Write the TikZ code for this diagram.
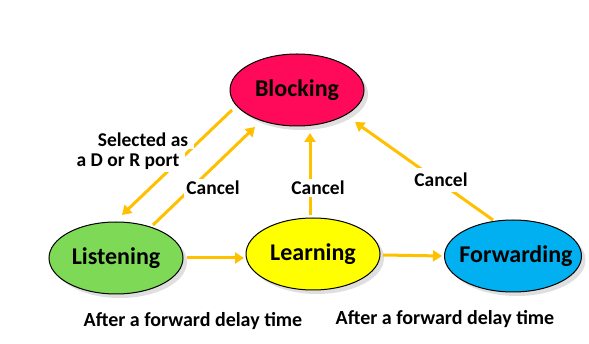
\documentclass[tikz,border=0pt]{standalone}
\usepackage{fontspec}
\setmainfont{Carlito}
\usetikzlibrary{arrows.meta,shadows,calc,shapes.geometric}
\definecolor{arrowc}{HTML}{FFC000}
\definecolor{blockc}{HTML}{FF0A5A}
\definecolor{listc}{HTML}{7ED957}
\definecolor{learnc}{HTML}{FFFF00}
\definecolor{fwdc}{HTML}{00B0F0}
\tikzset{
  state/.style={ellipse, draw=black, line width=1pt, minimum width=134pt, minimum height=72pt,
    inner sep=0pt, font=\bfseries\fontsize{24}{26}\selectfont,
    drop shadow={shadow xshift=4pt, shadow yshift=-4pt, fill=black!25, opacity=0.5}},
  arr/.style={draw=arrowc, line width=3pt, -{Triangle[length=9pt,width=11pt]}},
  lbl/.style={font=\bfseries\fontsize{19.5}{21}\selectfont, fill=white, inner sep=2pt},
  note/.style={font=\bfseries\fontsize{20}{22}\selectfont, inner sep=0pt}
}
\begin{document}
\begin{tikzpicture}[x=1pt,y=-1pt]
\useasboundingbox (0,0) rectangle (589,344);
\node[state, fill=blockc] (B) at (297,90) {Blocking};
\node[state, fill=listc] (Li) at (116,258) {Listening};
\node[state, fill=learnc] (Le) at (313,254) {Learning};
\node[state, fill=fwdc, minimum width=137pt, inner xsep=-30pt] (F) at (513,256) {\hspace{6pt}Forwarding};
% arrows
\draw[arr] ($(B)+(-65,20)$) -- ($(Li)+(6,-43)$);
\draw[arr] ($(Li)+(37,-33)$) -- ($(B)+(-42,37)$);
\draw[arr] ($(Le)+(-3,-39)$) -- ($(B)+(13,43)$);
\draw[arr] ($(F)+(-20,-36)$) -- ($(B)+(58,32)$);
\draw[arr] ($(Li)+(71,0)$) -- ($(Le)+(-69,4)$);
\draw[arr] ($(Le)+(70,1)$) -- ($(F)+(-71,0)$);
% labels
\node[lbl, inner xsep=6pt] (s1) at (143,140) {Selected as};
\node[lbl, inner xsep=6pt] (s2) at (128,162) {a D or R port};
\node[lbl] (c1) at (213,188) {Cancel};
\node[lbl] (c2) at (318,188) {Cancel};
\node[lbl, inner sep=5pt] (c3) at (441,180) {Cancel};
\node[note] (n1) at (193,321) {After a forward delay time};
\node[note] (n2) at (445,319) {After a forward delay time};
\end{tikzpicture}
\end{document}
